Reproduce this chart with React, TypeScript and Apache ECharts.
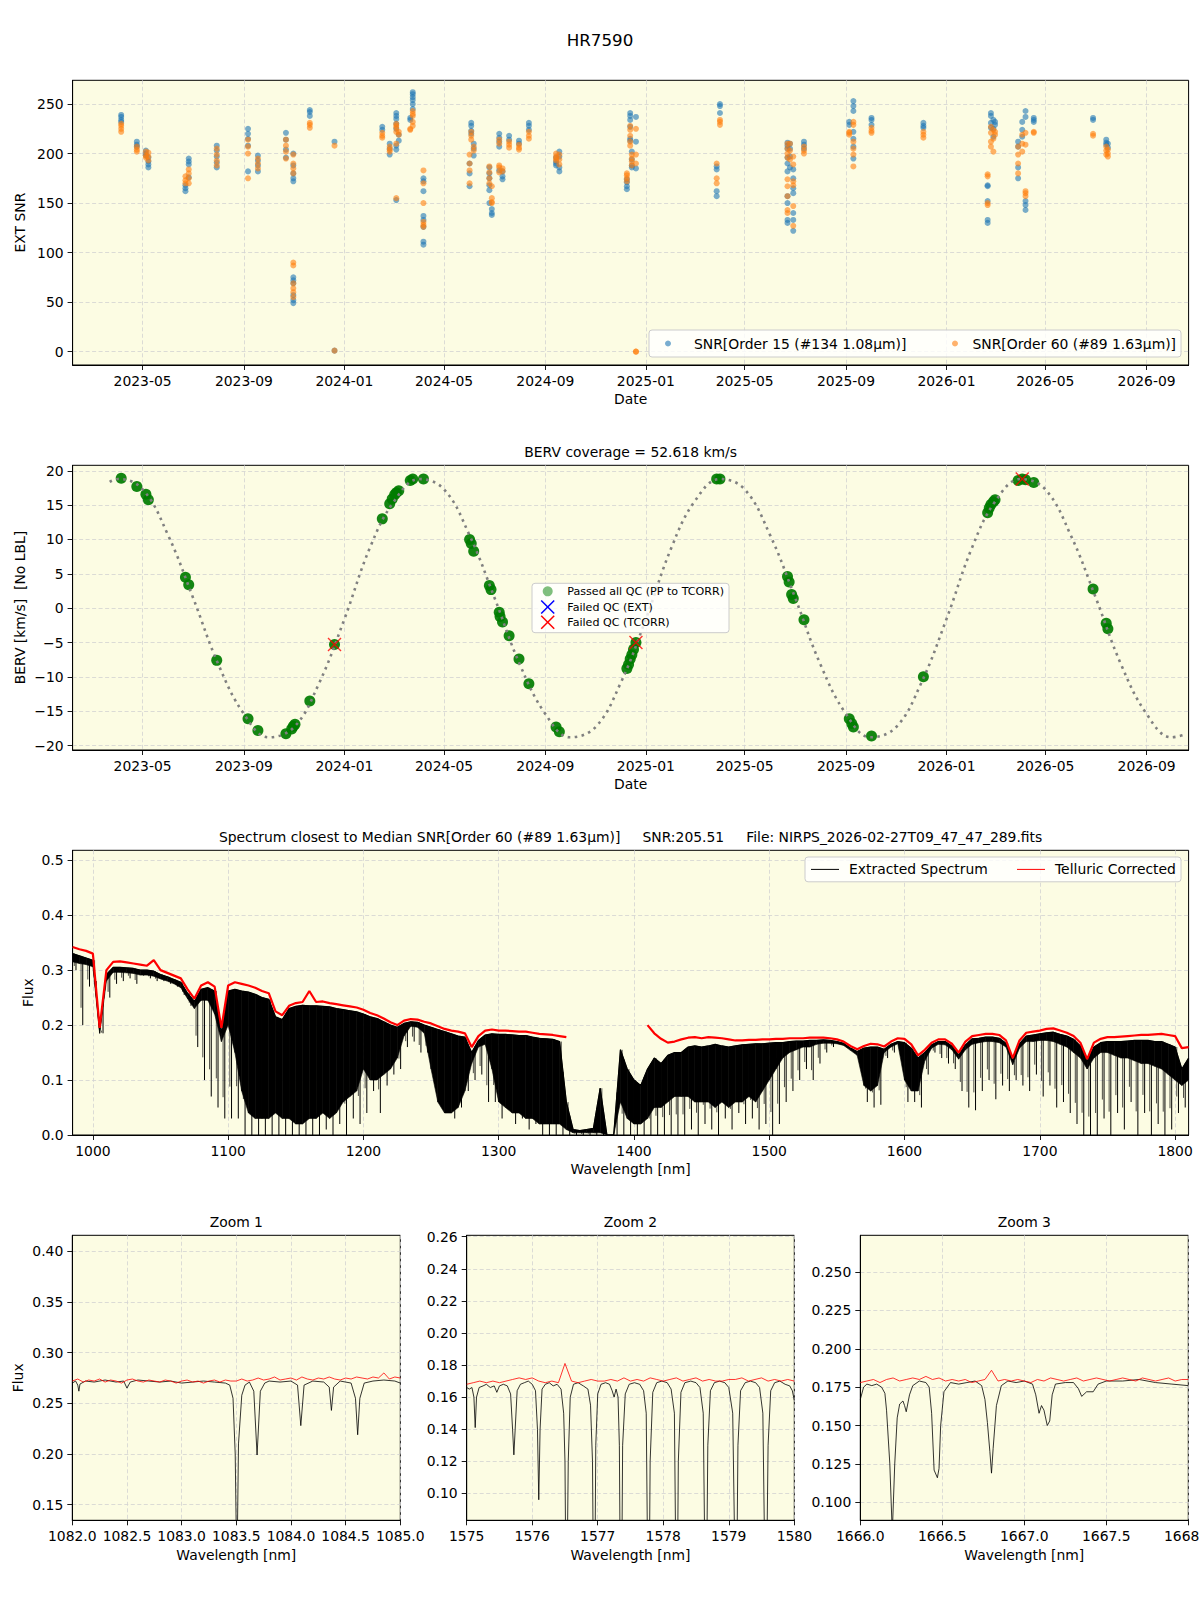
import React, { useEffect, useRef } from 'react';
import * as echarts from 'echarts';

const FONT = '"DejaVu Sans", sans-serif';
const BG = '#fcfce3';

// ---------- Panel 1: EXT SNR vs date (clusters of points per night) ----------
const snrOrder15: [string, number[]][] = [
  ['2023-04-05', [239, 237, 234, 232]],
  ['2023-04-24', [212, 209, 207]],
  ['2023-05-05', [203, 200, 198]],
  ['2023-05-08', [196, 192, 189, 186]],
  ['2023-06-22', [168, 165, 162]],
  ['2023-06-26', [195, 192, 189, 176]],
  ['2023-07-30', [208, 203, 197, 191, 186]],
  ['2023-09-06', [225, 220, 215, 208, 182]],
  ['2023-09-18', [198, 193, 188, 182]],
  ['2023-10-22', [221, 214, 204, 196]],
  ['2023-10-31', [200, 188, 180, 175, 172, 75, 72, 69, 57, 52, 49]],
  ['2023-11-20', [244, 242, 238]],
  ['2023-12-20', [212, 1]],
  ['2024-02-16', [227, 224]],
  ['2024-02-25', [210, 205, 199]],
  ['2024-03-04', [241, 238, 235, 230, 225, 208, 204, 153]],
  ['2024-03-07', [219, 213]],
  ['2024-03-21', [236, 234]],
  ['2024-03-24', [262, 260, 257, 254, 250, 245]],
  ['2024-04-06', [175, 172, 162, 137, 133, 126, 111, 108]],
  ['2024-06-01', [190, 180, 167]],
  ['2024-06-03', [231, 228, 223, 220]],
  ['2024-06-06', [210, 205, 198]],
  ['2024-06-25', [186, 180, 175, 168, 163, 150]],
  ['2024-06-28', [144, 140, 138]],
  ['2024-07-07', [220, 216, 212, 207, 183]],
  ['2024-07-11', [182, 177, 174]],
  ['2024-07-19', [218, 214]],
  ['2024-07-31', [213, 210]],
  ['2024-08-12', [231, 228, 224]],
  ['2024-09-14', [196, 192, 190, 188]],
  ['2024-09-18', [202, 197, 186, 182]],
  ['2024-12-09', [174, 171, 167, 164]],
  ['2024-12-13', [241, 238, 234, 227, 215, 213]],
  ['2024-12-15', [202, 194, 188, 186]],
  ['2024-12-20', [237, 212, 185]],
  ['2025-03-28', [187, 184, 162, 157]],
  ['2025-04-01', [250, 248, 241]],
  ['2025-06-22', [211, 208, 205, 196, 190, 182, 157, 150, 133, 130]],
  ['2025-06-25', [210, 205, 197, 186]],
  ['2025-06-29', [184, 175, 165, 160, 140, 133, 122]],
  ['2025-07-12', [212, 209, 205]],
  ['2025-09-05', [232, 229]],
  ['2025-09-10', [253, 248, 243, 222, 215, 207, 195]],
  ['2025-10-02', [236, 234, 229]],
  ['2025-12-04', [231, 228, 226]],
  ['2026-02-20', [168, 167, 152, 133, 130]],
  ['2026-02-24', [241, 238, 231, 226]],
  ['2026-02-27', [234, 225, 217]],
  ['2026-03-01', [232, 229]],
  ['2026-03-29', [212, 207, 186, 175]],
  ['2026-04-03', [232, 224, 217]],
  ['2026-04-07', [243, 237, 152, 148, 143]],
  ['2026-04-17', [236, 234, 232]],
  ['2026-06-28', [236, 234]],
  ['2026-07-14', [214, 211, 209]],
  ['2026-07-16', [210, 206]],
];

const snrOrder60: [string, number[]][] = [
  ['2023-04-05', [230, 228, 225, 222]],
  ['2023-04-24', [207, 204, 202]],
  ['2023-05-05', [202, 198, 196]],
  ['2023-05-08', [201, 197, 193]],
  ['2023-06-22', [177, 173, 170]],
  ['2023-06-26', [184, 180, 175, 170]],
  ['2023-07-30', [205, 199, 193, 188]],
  ['2023-09-06', [214, 207, 200, 175]],
  ['2023-09-18', [195, 190, 185]],
  ['2023-10-22', [214, 208, 202, 195]],
  ['2023-10-31', [199, 190, 185, 180, 90, 87, 69, 64, 60, 55]],
  ['2023-11-20', [231, 229, 226]],
  ['2023-12-20', [208, 1]],
  ['2024-02-16', [221, 218, 216]],
  ['2024-02-25', [207, 204, 202]],
  ['2024-03-04', [230, 226, 222, 228, 210, 155]],
  ['2024-03-07', [222, 219]],
  ['2024-03-21', [225, 224]],
  ['2024-03-24', [243, 240, 238, 232, 228]],
  ['2024-04-06', [183, 170, 150, 131, 126, 128]],
  ['2024-06-01', [199, 190, 183, 170]],
  ['2024-06-03', [222, 218, 214]],
  ['2024-06-06', [207, 203]],
  ['2024-06-25', [187, 181, 175, 170]],
  ['2024-06-28', [167, 155, 151, 150]],
  ['2024-07-07', [214, 210, 188, 186, 181]],
  ['2024-07-11', [185, 182]],
  ['2024-07-19', [212, 209, 206]],
  ['2024-07-31', [209, 206, 204]],
  ['2024-08-12', [222, 218, 215]],
  ['2024-09-14', [200, 197, 195, 193]],
  ['2024-09-18', [199, 194, 189]],
  ['2024-12-09', [180, 178, 175, 172]],
  ['2024-12-13', [228, 224, 218, 212, 208]],
  ['2024-12-15', [199, 195, 192, 188]],
  ['2024-12-20', [225, 199, 190, 0, 0]],
  ['2025-03-28', [190, 175, 170]],
  ['2025-04-01', [234, 232, 229]],
  ['2025-06-22', [210, 205, 200, 196, 174, 167, 157, 143, 140]],
  ['2025-06-25', [210, 203, 194]],
  ['2025-06-29', [197, 189, 172, 168, 147, 127]],
  ['2025-07-12', [207, 203, 200]],
  ['2025-09-05', [222, 221, 219]],
  ['2025-09-10', [232, 229, 212, 205, 199, 187]],
  ['2025-10-02', [226, 223, 221]],
  ['2025-12-04', [222, 219, 216]],
  ['2026-02-20', [179, 177, 150, 148]],
  ['2026-02-24', [227, 221, 212, 207]],
  ['2026-02-27', [224, 215, 202]],
  ['2026-03-01', [222, 219]],
  ['2026-03-29', [207, 199, 190, 180]],
  ['2026-04-03', [219, 210, 202]],
  ['2026-04-07', [221, 209, 162, 160, 157]],
  ['2026-04-17', [222, 221]],
  ['2026-06-28', [220, 218]],
  ['2026-07-14', [207, 203, 199]],
  ['2026-07-16', [204, 200, 197]],
];

const dateTickLabels = ['2023-05-01', '2023-09-01', '2024-01-01', '2024-05-01', '2024-09-01', '2025-01-01',
  '2025-05-01', '2025-09-01', '2026-01-01', '2026-05-01', '2026-09-01'];
const dateRange = ['2023-02-05', '2026-10-22'];
const snrTicks = [0, 50, 100, 150, 200, 250];
const snrRange = [-13.5, 274];

// ---------- Panel 2: BERV ----------
const bervCurve: [string, number][] = [
  ['2023-03-22', 18.4], ['2023-04-01', 18.8], ['2023-05-01', 17.3], ['2023-06-01', 10.6], ['2023-07-01', 1.6],
  ['2023-08-01', -8.2], ['2023-09-01', -15.4], ['2023-10-01', -18.8], ['2023-11-01', -17.3], ['2023-12-01', -11.0],
  ['2024-01-01', -1.6], ['2024-02-01', 8.8], ['2024-03-01', 15.5], ['2024-04-01', 18.8], ['2024-05-01', 17.3],
  ['2024-06-01', 10.6], ['2024-07-01', 1.6], ['2024-08-01', -8.2], ['2024-09-01', -15.4], ['2024-10-01', -18.8],
  ['2024-11-01', -17.3], ['2024-12-01', -11.0], ['2025-01-01', -1.6], ['2025-02-01', 8.8], ['2025-03-01', 15.5],
  ['2025-04-01', 18.8], ['2025-05-01', 17.3], ['2025-06-01', 10.6], ['2025-07-01', 1.6], ['2025-08-01', -8.2],
  ['2025-09-01', -15.4], ['2025-10-01', -18.8], ['2025-11-01', -17.3], ['2025-12-01', -11.0], ['2026-01-01', -1.6],
  ['2026-02-01', 8.8], ['2026-03-01', 15.5], ['2026-04-01', 18.8], ['2026-05-01', 17.3], ['2026-06-01', 10.6],
  ['2026-07-01', 1.6], ['2026-08-01', -8.2], ['2026-09-01', -15.4], ['2026-10-01', -18.8], ['2026-10-18', -18.4],
];

const bervPassed: [string, number][] = [
  ['2023-04-05', 18.9], ['2023-04-24', 17.7], ['2023-05-05', 16.6], ['2023-05-08', 15.8],
  ['2023-06-22', 4.5], ['2023-06-26', 3.4], ['2023-07-30', -7.6], ['2023-09-06', -16.1], ['2023-09-18', -17.8],
  ['2023-10-22', -18.3], ['2023-10-29', -17.6], ['2023-10-31', -17.2], ['2023-11-02', -16.9], ['2023-11-20', -13.5],
  ['2023-12-20', -5.3], ['2024-02-16', 13.0], ['2024-02-25', 15.2], ['2024-02-28', 15.9], ['2024-03-02', 16.5],
  ['2024-03-04', 16.8], ['2024-03-07', 17.1], ['2024-03-21', 18.6], ['2024-03-24', 18.8], ['2024-04-06', 18.8],
  ['2024-06-01', 10.0], ['2024-06-03', 9.4], ['2024-06-06', 8.3], ['2024-06-25', 3.3], ['2024-06-27', 2.7],
  ['2024-07-07', -0.6], ['2024-07-08', -1.2], ['2024-07-11', -2.0], ['2024-07-19', -4.0], ['2024-07-31', -7.4],
  ['2024-08-12', -11.0], ['2024-09-14', -17.3], ['2024-09-18', -18.0], ['2024-12-09', -8.8], ['2024-12-11', -8.2],
  ['2024-12-13', -7.4], ['2024-12-15', -6.8], ['2024-12-17', -6.0], ['2024-12-20', -5.0], ['2025-03-28', 18.8],
  ['2025-04-01', 18.8], ['2025-06-22', 4.6], ['2025-06-24', 3.8], ['2025-06-27', 2.0], ['2025-06-29', 1.4],
  ['2025-07-12', -1.7], ['2025-09-05', -16.1], ['2025-09-08', -16.8], ['2025-09-10', -17.3], ['2025-10-02', -18.6],
  ['2025-12-04', -10.0], ['2026-02-20', 13.9], ['2026-02-22', 14.6], ['2026-02-24', 15.1], ['2026-02-27', 15.5],
  ['2026-03-01', 15.8], ['2026-03-29', 18.6], ['2026-04-03', 18.8], ['2026-04-07', 18.7], ['2026-04-17', 18.3],
  ['2026-06-28', 2.8], ['2026-07-14', -2.2], ['2026-07-16', -3.0],
];
const bervFailedExt: [string, number][] = [];
const bervFailedTcorr: [string, number][] = [['2023-12-20', -5.3], ['2024-12-20', -5.0], ['2026-04-03', 18.8]];
const bervTicks = [-20, -15, -10, -5, 0, 5, 10, 15, 20];
const bervRange = [-20.65, 20.8];

// ---------- Panel 3: full spectrum, 5 nm bins ----------
// specBlackTop: continuum of the extracted spectrum; specBlackDense: level down to which the
// telluric line forest is solid; specBlackLow: deepest line in the bin; specRed: telluric corrected
const specWaveStart = 985;
const specWaveStep = 5;
const specRed: (number | null)[] = [
  0.342, 0.338, 0.335, 0.330, 0.195, 0.300, 0.315, 0.316, 0.314, 0.312,
  0.310, 0.308, 0.318, 0.300, 0.295, 0.290, 0.285, 0.265, 0.248, 0.272,
  0.278, 0.270, 0.195, 0.272, 0.278, 0.275, 0.272, 0.268, 0.262, 0.258,
  0.225, 0.218, 0.235, 0.240, 0.242, 0.262, 0.242, 0.243, 0.240, 0.238,
  0.236, 0.234, 0.232, 0.228, 0.222, 0.218, 0.212, 0.205, 0.200, 0.208,
  0.211, 0.210, 0.206, 0.203, 0.198, 0.193, 0.190, 0.188, 0.185, 0.160,
  0.180, 0.190, 0.192, 0.190, 0.190, 0.189, 0.188, 0.188, 0.186, 0.184,
  0.183, 0.182, 0.180, 0.178, null, null, null, null, null, null,
  null, null, null, null, null, 0.200, 0.185, 0.175, 0.168, 0.170,
  0.174, 0.177, 0.178, 0.176, 0.178, 0.177, 0.176, 0.174, 0.172, 0.172,
  0.173, 0.173, 0.174, 0.174, 0.175, 0.175, 0.176, 0.176, 0.176, 0.177,
  0.177, 0.177, 0.176, 0.174, 0.170, 0.162, 0.156, 0.162, 0.166, 0.165,
  0.161, 0.170, 0.176, 0.175, 0.165, 0.145, 0.155, 0.168, 0.174, 0.174,
  0.166, 0.150, 0.170, 0.180, 0.182, 0.184, 0.184, 0.182, 0.172, 0.140,
  0.172, 0.186, 0.188, 0.190, 0.193, 0.194, 0.190, 0.186, 0.180, 0.168,
  0.138, 0.168, 0.175, 0.178, 0.178, 0.179, 0.180, 0.181, 0.182, 0.182,
  0.183, 0.184, 0.182, 0.180, 0.158, 0.160,
];
const specBlackTop: number[] = [
  0.330, 0.326, 0.322, 0.318, 0.190, 0.292, 0.305, 0.305, 0.304, 0.303,
  0.300, 0.300, 0.298, 0.292, 0.288, 0.283, 0.278, 0.258, 0.243, 0.265,
  0.268, 0.262, 0.185, 0.262, 0.265, 0.262, 0.260, 0.256, 0.250, 0.247,
  0.215, 0.210, 0.230, 0.234, 0.236, 0.235, 0.235, 0.234, 0.233, 0.230,
  0.228, 0.226, 0.224, 0.220, 0.215, 0.212, 0.206, 0.200, 0.196, 0.203,
  0.206, 0.205, 0.200, 0.196, 0.192, 0.188, 0.184, 0.180, 0.178, 0.150,
  0.172, 0.182, 0.184, 0.183, 0.183, 0.182, 0.181, 0.181, 0.178, 0.176,
  0.175, 0.174, 0.170, 0.060, 0.010, 0.008, 0.010, 0.012, 0.085, 0.000,
  0.000, 0.155, 0.120, 0.100, 0.090, 0.120, 0.140, 0.130, 0.145, 0.150,
  0.150, 0.160, 0.162, 0.160, 0.162, 0.165, 0.162, 0.160, 0.162, 0.164,
  0.165, 0.166, 0.166, 0.167, 0.168, 0.168, 0.170, 0.171, 0.171, 0.172,
  0.172, 0.173, 0.172, 0.170, 0.167, 0.158, 0.152, 0.158, 0.160, 0.160,
  0.156, 0.165, 0.170, 0.168, 0.158, 0.140, 0.150, 0.164, 0.170, 0.170,
  0.162, 0.146, 0.164, 0.175, 0.176, 0.178, 0.178, 0.176, 0.167, 0.135,
  0.166, 0.180, 0.182, 0.184, 0.186, 0.187, 0.183, 0.180, 0.174, 0.162,
  0.134, 0.160, 0.168, 0.170, 0.170, 0.170, 0.171, 0.172, 0.172, 0.172,
  0.170, 0.170, 0.165, 0.160, 0.120, 0.140,
];
const specBlackDense: number[] = [
  0.315, 0.312, 0.310, 0.306, 0.185, 0.280, 0.296, 0.296, 0.295, 0.294,
  0.291, 0.291, 0.289, 0.284, 0.280, 0.275, 0.268, 0.248, 0.230, 0.245,
  0.245, 0.220, 0.170, 0.200, 0.150, 0.080, 0.040, 0.030, 0.030, 0.030,
  0.040, 0.030, 0.030, 0.020, 0.020, 0.030, 0.030, 0.040, 0.030, 0.040,
  0.060, 0.070, 0.080, 0.120, 0.100, 0.100, 0.110, 0.120, 0.140, 0.180,
  0.198, 0.196, 0.185, 0.120, 0.060, 0.040, 0.040, 0.050, 0.080, 0.130,
  0.160, 0.165, 0.120, 0.060, 0.050, 0.040, 0.040, 0.030, 0.030, 0.020,
  0.020, 0.020, 0.020, 0.010, 0.004, 0.004, 0.004, 0.004, 0.004, 0.000,
  0.000, 0.060, 0.030, 0.020, 0.020, 0.030, 0.050, 0.050, 0.060, 0.070,
  0.070, 0.070, 0.060, 0.060, 0.060, 0.050, 0.060, 0.050, 0.060, 0.060,
  0.070, 0.060, 0.080, 0.100, 0.120, 0.140, 0.150, 0.155, 0.160, 0.160,
  0.165, 0.167, 0.167, 0.166, 0.163, 0.154, 0.145, 0.090, 0.080, 0.090,
  0.150, 0.160, 0.166, 0.100, 0.080, 0.080, 0.135, 0.158, 0.165, 0.164,
  0.155, 0.138, 0.155, 0.165, 0.168, 0.170, 0.170, 0.168, 0.160, 0.128,
  0.158, 0.170, 0.170, 0.172, 0.172, 0.170, 0.165, 0.160, 0.150, 0.140,
  0.120, 0.140, 0.150, 0.150, 0.145, 0.140, 0.140, 0.135, 0.130, 0.130,
  0.125, 0.120, 0.110, 0.100, 0.090, 0.100,
];
const specBlackLow: number[] = [
  0.300, 0.200, 0.270, 0.280, 0.185, 0.250, 0.275, 0.280, 0.285, 0.275,
  0.290, 0.285, 0.280, 0.280, 0.275, 0.270, 0.255, 0.235, 0.160, 0.100,
  0.070, 0.050, 0.030, 0.030, 0.030, 0.000, 0.000, 0.000, 0.000, 0.000,
  0.000, 0.000, 0.000, 0.000, 0.000, 0.000, 0.000, 0.010, 0.000, 0.020,
  0.000, 0.030, 0.020, 0.040, 0.080, 0.040, 0.090, 0.110, 0.120, 0.160,
  0.170, 0.150, 0.150, 0.110, 0.080, 0.040, 0.030, 0.050, 0.080, 0.100,
  0.110, 0.060, 0.060, 0.030, 0.050, 0.020, 0.030, 0.010, 0.020, 0.000,
  0.000, 0.000, 0.000, 0.000, 0.000, 0.000, 0.000, 0.000, 0.000, 0.000,
  0.000, 0.000, 0.000, 0.000, 0.000, 0.000, 0.000, 0.000, 0.000, 0.000,
  0.000, 0.010, 0.000, 0.020, 0.010, 0.000, 0.030, 0.010, 0.040, 0.020,
  0.030, 0.010, 0.020, 0.000, 0.020, 0.060, 0.080, 0.100, 0.120, 0.100,
  0.130, 0.150, 0.160, 0.165, 0.160, 0.155, 0.140, 0.060, 0.050, 0.055,
  0.140, 0.150, 0.165, 0.060, 0.060, 0.050, 0.110, 0.150, 0.140, 0.130,
  0.120, 0.080, 0.050, 0.045, 0.080, 0.100, 0.065, 0.090, 0.080, 0.100,
  0.090, 0.080, 0.110, 0.070, 0.090, 0.050, 0.060, 0.040, 0.020, 0.000,
  0.000, 0.000, 0.030, 0.000, 0.040, 0.010, 0.060, 0.000, 0.040, 0.000,
  0.020, 0.000, 0.010, 0.040, 0.050, 0.060,
];
const specXTicks = [1000, 1100, 1200, 1300, 1400, 1500, 1600, 1700, 1800];
const specYTicks = [0, 0.1, 0.2, 0.3, 0.4, 0.5];
const specXRange = [985, 1810];
const specYRange = [0, 0.518];

// ---------- Zoom panels ----------
const zoom1Black: [number, number][] = [
  [1082.00, 0.270], [1082.03, 0.272], [1082.05, 0.268], [1082.06, 0.262], [1082.07, 0.269], [1082.12, 0.272],
  [1082.20, 0.271], [1082.30, 0.273], [1082.40, 0.271], [1082.47, 0.272], [1082.50, 0.265], [1082.53, 0.271],
  [1082.60, 0.273], [1082.70, 0.272], [1082.80, 0.271], [1082.90, 0.272], [1083.00, 0.270], [1083.10, 0.271],
  [1083.20, 0.272], [1083.30, 0.271], [1083.40, 0.270], [1083.44, 0.268], [1083.47, 0.255], [1083.49, 0.200],
  [1083.50, 0.120], [1083.51, 0.120], [1083.52, 0.210], [1083.55, 0.258], [1083.58, 0.268], [1083.62, 0.271],
  [1083.66, 0.262], [1083.69, 0.199], [1083.72, 0.262], [1083.76, 0.270], [1083.80, 0.272], [1083.90, 0.271],
  [1084.00, 0.272], [1084.06, 0.268], [1084.09, 0.228], [1084.12, 0.268], [1084.20, 0.272], [1084.30, 0.271],
  [1084.35, 0.266], [1084.37, 0.243], [1084.39, 0.266], [1084.45, 0.272], [1084.55, 0.270], [1084.59, 0.255],
  [1084.61, 0.219], [1084.63, 0.255], [1084.67, 0.270], [1084.75, 0.272], [1084.85, 0.273], [1084.95, 0.272],
  [1085.00, 0.270],
];
const zoom1RedStart = 1082.0;
const zoom1RedStep = 0.05;
const zoom1Red: number[] = [
  0.272, 0.274, 0.271, 0.273, 0.272, 0.274, 0.271, 0.273, 0.272, 0.270,
  0.273, 0.274, 0.272, 0.271, 0.273, 0.272, 0.271, 0.273, 0.272, 0.270,
  0.272, 0.273, 0.271, 0.272, 0.270, 0.272, 0.273, 0.271, 0.273, 0.272,
  0.272, 0.274, 0.272, 0.273, 0.275, 0.273, 0.274, 0.276, 0.273, 0.274,
  0.275, 0.273, 0.276, 0.274, 0.273, 0.275, 0.274, 0.276, 0.274, 0.273,
  0.275, 0.274, 0.276, 0.275, 0.274, 0.276, 0.275, 0.280, 0.274, 0.276,
  0.275,
];
const zoom1XTicks = [1082, 1082.5, 1083, 1083.5, 1084, 1084.5, 1085];
const zoom1YTicks = [0.15, 0.2, 0.25, 0.3, 0.35, 0.4];
const zoom1Range = { x: [1082, 1085], y: [0.1346, 0.4158] };

const zoom2Black: [number, number][] = [
  [1575.00, 0.166], [1575.04, 0.165], [1575.08, 0.166], [1575.11, 0.160], [1575.13, 0.141], [1575.15, 0.160],
  [1575.19, 0.166], [1575.25, 0.167], [1575.30, 0.168], [1575.36, 0.166], [1575.42, 0.167], [1575.46, 0.163],
  [1575.50, 0.167], [1575.56, 0.168], [1575.62, 0.167], [1575.67, 0.162], [1575.70, 0.140], [1575.72, 0.124],
  [1575.74, 0.140], [1575.77, 0.164], [1575.82, 0.168], [1575.88, 0.169], [1575.94, 0.170], [1576.00, 0.168],
  [1576.05, 0.164], [1576.08, 0.140], [1576.10, 0.096], [1576.12, 0.140], [1576.15, 0.165], [1576.20, 0.168],
  [1576.26, 0.169], [1576.32, 0.167], [1576.38, 0.168], [1576.44, 0.165], [1576.48, 0.150], [1576.50, 0.120],
  [1576.515, 0.040], [1576.53, 0.040], [1576.55, 0.120], [1576.58, 0.160], [1576.63, 0.168], [1576.70, 0.169],
  [1576.78, 0.167], [1576.85, 0.165], [1576.89, 0.155], [1576.92, 0.120], [1576.935, 0.040], [1576.955, 0.040],
  [1576.97, 0.130], [1577.00, 0.162], [1577.05, 0.168], [1577.12, 0.169], [1577.18, 0.168], [1577.22, 0.164],
  [1577.25, 0.160], [1577.28, 0.165], [1577.31, 0.160], [1577.33, 0.130], [1577.345, 0.040], [1577.365, 0.040],
  [1577.38, 0.130], [1577.42, 0.162], [1577.48, 0.168], [1577.56, 0.169], [1577.64, 0.168], [1577.70, 0.164],
  [1577.74, 0.150], [1577.765, 0.040], [1577.785, 0.040], [1577.80, 0.120], [1577.84, 0.163], [1577.90, 0.169],
  [1577.98, 0.170], [1578.06, 0.169], [1578.12, 0.165], [1578.17, 0.150], [1578.195, 0.040], [1578.215, 0.040],
  [1578.23, 0.120], [1578.27, 0.163], [1578.33, 0.169], [1578.42, 0.170], [1578.50, 0.169], [1578.56, 0.166],
  [1578.61, 0.150], [1578.64, 0.040], [1578.66, 0.040], [1578.68, 0.130], [1578.72, 0.164], [1578.78, 0.169],
  [1578.86, 0.170], [1578.94, 0.169], [1579.00, 0.166], [1579.06, 0.150], [1579.10, 0.040], [1579.12, 0.040],
  [1579.14, 0.130], [1579.18, 0.164], [1579.25, 0.169], [1579.33, 0.170], [1579.41, 0.169], [1579.47, 0.166],
  [1579.52, 0.150], [1579.555, 0.040], [1579.575, 0.040], [1579.60, 0.130], [1579.64, 0.164], [1579.70, 0.169],
  [1579.78, 0.170], [1579.86, 0.168], [1579.93, 0.167], [1579.97, 0.164], [1580.00, 0.158],
];
const zoom2RedStart = 1575.0;
const zoom2RedStep = 0.1;
const zoom2Red: number[] = [
  0.168, 0.169, 0.170, 0.169, 0.170, 0.169, 0.170, 0.171, 0.172, 0.171,
  0.172, 0.170, 0.169, 0.170, 0.169, 0.181, 0.170, 0.169, 0.170, 0.171,
  0.170, 0.170, 0.171, 0.170, 0.172, 0.170, 0.171, 0.170, 0.172, 0.171,
  0.170, 0.171, 0.172, 0.170, 0.171, 0.172, 0.170, 0.171, 0.170, 0.170,
  0.171, 0.171, 0.172, 0.170, 0.171, 0.172, 0.170, 0.171, 0.170, 0.171,
  0.170,
];
const zoom2XTicks = [1575, 1576, 1577, 1578, 1579, 1580];
const zoom2YTicks = [0.1, 0.12, 0.14, 0.16, 0.18, 0.2, 0.22, 0.24, 0.26];
const zoom2Range = { x: [1575, 1580], y: [0.0832, 0.2609] };

const zoom3Black: [number, number][] = [
  [1666.00, 0.167], [1666.02, 0.175], [1666.04, 0.177], [1666.07, 0.176], [1666.10, 0.177], [1666.13, 0.175],
  [1666.15, 0.171], [1666.16, 0.160], [1666.18, 0.125], [1666.195, 0.080], [1666.21, 0.125], [1666.225, 0.155],
  [1666.24, 0.164], [1666.26, 0.166], [1666.27, 0.163], [1666.28, 0.159], [1666.30, 0.170], [1666.32, 0.176],
  [1666.36, 0.179], [1666.40, 0.178], [1666.42, 0.175], [1666.435, 0.158], [1666.45, 0.121], [1666.47, 0.116],
  [1666.48, 0.122], [1666.49, 0.150], [1666.51, 0.172], [1666.55, 0.178], [1666.60, 0.177], [1666.65, 0.178],
  [1666.70, 0.179], [1666.74, 0.176], [1666.76, 0.167], [1666.775, 0.152], [1666.79, 0.133], [1666.80, 0.119],
  [1666.81, 0.135], [1666.83, 0.163], [1666.86, 0.176], [1666.90, 0.179], [1666.95, 0.178], [1667.00, 0.179],
  [1667.05, 0.177], [1667.07, 0.170], [1667.09, 0.158], [1667.105, 0.163], [1667.12, 0.160], [1667.14, 0.150],
  [1667.155, 0.153], [1667.17, 0.170], [1667.19, 0.177], [1667.25, 0.178], [1667.30, 0.178], [1667.33, 0.174],
  [1667.35, 0.169], [1667.38, 0.172], [1667.42, 0.172], [1667.45, 0.177], [1667.50, 0.179], [1667.60, 0.179],
  [1667.70, 0.180], [1667.80, 0.178], [1667.90, 0.177], [1668.00, 0.176],
];
const zoom3RedStart = 1666.0;
const zoom3RedStep = 0.04;
const zoom3Red: number[] = [
  0.178, 0.179, 0.180, 0.178, 0.180, 0.181, 0.179, 0.180, 0.181, 0.180,
  0.182, 0.180, 0.181, 0.179, 0.180, 0.179, 0.180, 0.178, 0.179, 0.180,
  0.186, 0.179, 0.180, 0.179, 0.180, 0.179, 0.178, 0.180, 0.179, 0.181,
  0.180, 0.179, 0.180, 0.181, 0.179, 0.180, 0.181, 0.180, 0.179, 0.180,
  0.181, 0.180, 0.179, 0.181, 0.180, 0.179, 0.180, 0.181, 0.179, 0.180,
  0.180,
];
const zoom3XTicks = [1666, 1666.5, 1667, 1667.5, 1668];
const zoom3YTicks = [0.1, 0.125, 0.15, 0.175, 0.2, 0.225, 0.25];
const zoom3Range = { x: [1666, 1668], y: [0.0883, 0.2739] };

// ---------- helpers ----------
function ms(s: string): number {
  const [y, m, d] = s.split('-').map(Number);
  return Date.UTC(y, m - 1, d);
}
function fmtDate(v: number): string {
  const d = new Date(v);
  return `${d.getUTCFullYear()}-${String(d.getUTCMonth() + 1).padStart(2, '0')}`;
}
const minus = (s: string) => s.replace('-', '\u2212');

const NAME15 = 'SNR[Order 15 (#134 1.08μm)]';
const NAME60 = 'SNR[Order 60 (#89 1.63μm)]';

function axis(gridIndex: number, range: number[], ticks: number[], fmt: (v: number) => string) {
  return {
    type: 'value',
    gridIndex,
    min: range[0],
    max: range[1],
    axisLine: { show: true, onZero: false, lineStyle: { color: '#000', width: 1 } },
    axisTick: { show: true, inside: false, length: 5, customValues: ticks, lineStyle: { color: '#000', width: 0.9 } },
    axisLabel: { show: true, customValues: ticks, formatter: fmt, color: '#000', fontFamily: FONT, fontSize: 13.9, margin: 9 },
    splitLine: { show: true, lineStyle: { color: '#d2d2d2', width: 0.8, type: [4, 2.5] } },
  };
}

function text(t: string, x: number, y: number, size = 13.9, rot = 0, align = 'center') {
  return {
    type: 'text',
    x,
    y,
    rotation: rot,
    silent: true,
    z: 100,
    style: {
      text: t,
      fill: '#000',
      fontSize: size,
      fontFamily: FONT,
      align,
      verticalAlign: 'middle',
      textAlign: align,
      textVerticalAlign: 'middle',
    },
  };
}
function box(x: number, y: number, w: number, h: number) {
  return {
    type: 'rect', silent: true, z: 99,
    shape: { x, y, width: w, height: h, r: 3 },
    style: { fill: 'rgba(255,255,255,0.8)', stroke: '#cccccc', lineWidth: 1 },
  };
}
function dot(cx: number, cy: number, r: number, fill: string, opacity: number) {
  return { type: 'circle', silent: true, z: 100, shape: { cx, cy, r }, style: { fill, opacity } };
}
function seg(x1: number, y1: number, x2: number, y2: number, stroke: string, lw: number) {
  return { type: 'line', silent: true, z: 100, shape: { x1, y1, x2, y2 }, style: { stroke, lineWidth: lw } };
}
function cross(cx: number, cy: number, h: number, stroke: string) {
  return [seg(cx - h, cy - h, cx + h, cy + h, stroke, 1.5), seg(cx - h, cy + h, cx + h, cy - h, stroke, 1.5)];
}

const XMARK = 'path://M0,0.7L0.7,0L5,4.3L9.3,0L10,0.7L5.7,5L10,9.3L9.3,10L5,5.7L0.7,10L0,9.3L4.3,5Z';

function buildOption() {
  const grids = [
    { left: 72.6, top: 80.3, width: 1116, height: 284.7 },
    { left: 72.6, top: 465.3, width: 1116, height: 284.7 },
    { left: 72.6, top: 850.3, width: 1116, height: 284.7 },
    { left: 72.3, top: 1235.3, width: 328, height: 285 },
    { left: 466.7, top: 1235.3, width: 327.6, height: 285 },
    { left: 860.3, top: 1235.3, width: 328, height: 285 },
  ].map((g) => ({ ...g, show: true, backgroundColor: BG, borderColor: '#000', borderWidth: 1, containLabel: false, outerBoundsMode: 'none' }));

  const dateTicks = dateTickLabels.map(ms);
  const dRange = dateRange.map(ms);

  const xAxes = [
    axis(0, dRange, dateTicks, fmtDate),
    axis(1, dRange, dateTicks, fmtDate),
    axis(2, specXRange, specXTicks, (v) => String(Math.round(v))),
    axis(3, zoom1Range.x, zoom1XTicks, (v) => v.toFixed(1)),
    axis(4, zoom2Range.x, zoom2XTicks, (v) => String(Math.round(v))),
    axis(5, zoom3Range.x, zoom3XTicks, (v) => v.toFixed(1)),
  ];
  const yAxes = [
    axis(0, snrRange, snrTicks, (v) => String(Math.round(v))),
    axis(1, bervRange, bervTicks, (v) => minus(String(Math.round(v)))),
    axis(2, specYRange, specYTicks, (v) => v.toFixed(1)),
    axis(3, zoom1Range.y, zoom1YTicks, (v) => v.toFixed(2)),
    axis(4, zoom2Range.y, zoom2YTicks, (v) => v.toFixed(2)),
    axis(5, zoom3Range.y, zoom3YTicks, (v) => v.toFixed(3)),
  ];

  const snrPts = (c: [string, number[]][]) => c.flatMap(([d, vals]) => vals.map((v) => [ms(d), v]));
  const pairPts = (c: [string, number][]) => c.map(([d, v]) => [ms(d), v]);

  const wave = (i: number) => specWaveStart + i * specWaveStep;
  const nSpec = specBlackTop.length;
  const forestData = specBlackTop.map((v, i) => [wave(i), v, specBlackDense[i], specBlackLow[i]]);
  const continuum = specBlackTop.map((v, i) => [wave(i), v]);
  const specRedData = specRed.map((v, i) => [wave(i), v === null ? '-' : v]);
  const grid = (arr: number[], start: number, step: number) => arr.map((v, i) => [start + i * step, v]);

  const forestItem = (params: any, api: any) => {
    const i = params.dataIndex;
    if (i >= nSpec - 1) return null;
    const w0 = wave(i);
    const w1 = wave(i + 1);
    const wm = (w0 + w1) / 2;
    const a = api.coord([w0, specBlackTop[i]]);
    const b = api.coord([w1, specBlackTop[i + 1]]);
    const c = api.coord([w1, specBlackDense[i + 1]]);
    const d = api.coord([w0, specBlackDense[i]]);
    const m = api.coord([wm, (specBlackTop[i] + specBlackTop[i + 1]) / 2]);
    const lo = api.coord([wm, specBlackLow[i]]);
    const q = api.coord([w0 + specWaveStep * 0.25, specBlackLow[i]]);
    const q2 = api.coord([w0 + specWaveStep * 0.25, specBlackTop[i]]);
    return {
      type: 'group',
      children: [
        { type: 'polygon', shape: { points: [a, b, c, d] }, style: { fill: '#000', stroke: '#000', lineWidth: 0.6 } },
        { type: 'line', shape: { x1: m[0], y1: m[1], x2: lo[0], y2: lo[1] }, style: { stroke: '#000', lineWidth: 1 } },
        {
          type: 'line',
          shape: { x1: q2[0], y1: q2[1], x2: q[0], y2: (q[1] + q2[1]) / 2 + (q[1] - q2[1]) * 0.25 },
          style: { stroke: '#000', lineWidth: 0.7 },
        },
      ],
    };
  };

  const lineSeries = (name: string, idx: number, data: any[], color: string, width: number, z = 2) => ({
    type: 'line',
    name,
    xAxisIndex: idx,
    yAxisIndex: idx,
    data,
    symbol: 'none',
    showSymbol: false,
    connectNulls: false,
    clip: true,
    z,
    lineStyle: { color, width },
    itemStyle: { color },
  });

  const series: any[] = [
    {
      type: 'scatter', name: NAME15, xAxisIndex: 0, yAxisIndex: 0, data: snrPts(snrOrder15),
      symbol: 'circle', symbolSize: 6, itemStyle: { color: '#1f77b4', opacity: 0.6 }, z: 2,
    },
    {
      type: 'scatter', name: NAME60, xAxisIndex: 0, yAxisIndex: 0, data: snrPts(snrOrder60),
      symbol: 'circle', symbolSize: 6, itemStyle: { color: '#ff7f0e', opacity: 0.6 }, z: 3,
    },
    {
      type: 'scatter', name: 'Passed all QC (PP to TCORR)', xAxisIndex: 1, yAxisIndex: 1, data: pairPts(bervPassed),
      symbol: 'circle', symbolSize: 11, itemStyle: { color: '#007c00', opacity: 0.92 }, z: 2,
    },
    {
      type: 'line', name: 'BERV curve', xAxisIndex: 1, yAxisIndex: 1, data: pairPts(bervCurve),
      symbol: 'none', showSymbol: false, smooth: 0.4, z: 3,
      lineStyle: { color: '#808080', width: 2.6, type: [2.6, 4.4], cap: 'butt' },
    },
    {
      type: 'scatter', name: 'Failed QC (EXT)', xAxisIndex: 1, yAxisIndex: 1, data: pairPts(bervFailedExt),
      symbol: XMARK, symbolSize: 14, itemStyle: { color: '#0000ff' }, z: 4,
    },
    {
      type: 'scatter', name: 'Failed QC (TCORR)', xAxisIndex: 1, yAxisIndex: 1, data: pairPts(bervFailedTcorr),
      symbol: XMARK, symbolSize: 14, itemStyle: { color: '#ff0000' }, z: 4,
    },
    {
      type: 'custom', name: 'Extracted forest', xAxisIndex: 2, yAxisIndex: 2, data: forestData,
      encode: { x: 0, y: [1, 2, 3] }, renderItem: forestItem, z: 2, silent: true,
    },
    lineSeries('Extracted Spectrum', 2, continuum, '#000000', 1.2, 2),
    lineSeries('Telluric Corrected', 2, specRedData, '#ff0000', 2.2, 3),
    lineSeries('z1 black', 3, zoom1Black, '#000000', 0.8, 2),
    lineSeries('z1 red', 3, grid(zoom1Red, zoom1RedStart, zoom1RedStep), '#ff0000', 0.8, 3),
    lineSeries('z2 black', 4, zoom2Black, '#000000', 0.8, 2),
    lineSeries('z2 red', 4, grid(zoom2Red, zoom2RedStart, zoom2RedStep), '#ff0000', 0.8, 3),
    lineSeries('z3 black', 5, zoom3Black, '#000000', 0.8, 2),
    lineSeries('z3 red', 5, grid(zoom3Red, zoom3RedStart, zoom3RedStep), '#ff0000', 0.8, 3),
  ];

  const nb = '\u00a0';
  const specTitle = `Spectrum closest to Median SNR[Order 60 (#89 1.63μm)]${nb.repeat(5)}SNR:205.51${nb.repeat(5)}File: NIRPS_2026-02-27T09_47_47_289.fits`;

  const graphics: any[] = [
    text('HR7590', 600, 40, 16.7),
    text('EXT SNR', 20.4, 222.6, 13.9, Math.PI / 2),
    text('Date', 630.6, 399, 13.9),
    text('BERV coverage = 52.618 km/s', 630.6, 452, 13.9),
    text(`BERV [km/s]${nb}${nb}[No LBL]`, 20.4, 607.6, 13.9, Math.PI / 2),
    text('Date', 630.6, 784, 13.9),
    text(specTitle, 630.6, 837, 13.9),
    text('Flux', 27.5, 992.6, 13.9, Math.PI / 2),
    text('Wavelength [nm]', 630.6, 1169, 13.9),
    text('Zoom 1', 236.3, 1221.5, 13.9),
    text('Zoom 2', 630.5, 1221.5, 13.9),
    text('Zoom 3', 1024.3, 1221.5, 13.9),
    text('Flux', 18.4, 1377.8, 13.9, Math.PI / 2),
    text('Wavelength [nm]', 236.3, 1555, 13.9),
    text('Wavelength [nm]', 630.5, 1555, 13.9),
    text('Wavelength [nm]', 1024.3, 1555, 13.9),
    // legend 1 (SNR)
    box(649, 330, 532, 27),
    dot(668, 343.5, 3, '#1f77b4', 0.6),
    text(NAME15, 694, 343.5, 13.9, 0, 'left'),
    dot(955, 343.5, 3, '#ff7f0e', 0.6),
    text(NAME60, 972.5, 343.5, 13.9, 0, 'left'),
    // legend 2 (BERV)
    box(532, 583.3, 197, 49.4),
    dot(547.7, 591.3, 5, '#008000', 0.5),
    text('Passed all QC (PP to TCORR)', 567.3, 591.3, 11.1, 0, 'left'),
    ...cross(547.7, 607, 6.5, '#0000ff'),
    text('Failed QC (EXT)', 567.3, 607, 11.1, 0, 'left'),
    ...cross(547.7, 622.3, 6.5, '#ff0000'),
    text('Failed QC (TCORR)', 567.3, 622.3, 11.1, 0, 'left'),
    // legend 3 (spectrum)
    box(805, 857, 376, 24.8),
    seg(811, 869.4, 839, 869.4, '#000000', 1),
    text('Extracted Spectrum', 849, 869.4, 13.9, 0, 'left'),
    seg(1017, 869.4, 1045, 869.4, '#ff0000', 1),
    text('Telluric Corrected', 1055, 869.4, 13.9, 0, 'left'),
  ];

  return {
    animation: false,
    backgroundColor: '#ffffff',
    textStyle: { fontFamily: FONT },
    grid: grids,
    xAxis: xAxes,
    yAxis: yAxes,
    series,
    graphic: { elements: graphics },
  };
}

export default function App() {
  const ref = useRef<HTMLDivElement>(null);
  useEffect(() => {
    document.body.style.margin = '0';
    const chart = echarts.init(ref.current as HTMLDivElement, null, { renderer: 'svg' });
    chart.setOption(buildOption() as any);
    return () => {
      chart.dispose();
    };
  }, []);
  return <div ref={ref} style={{ width: 1200, height: 1600 }} />;
}
